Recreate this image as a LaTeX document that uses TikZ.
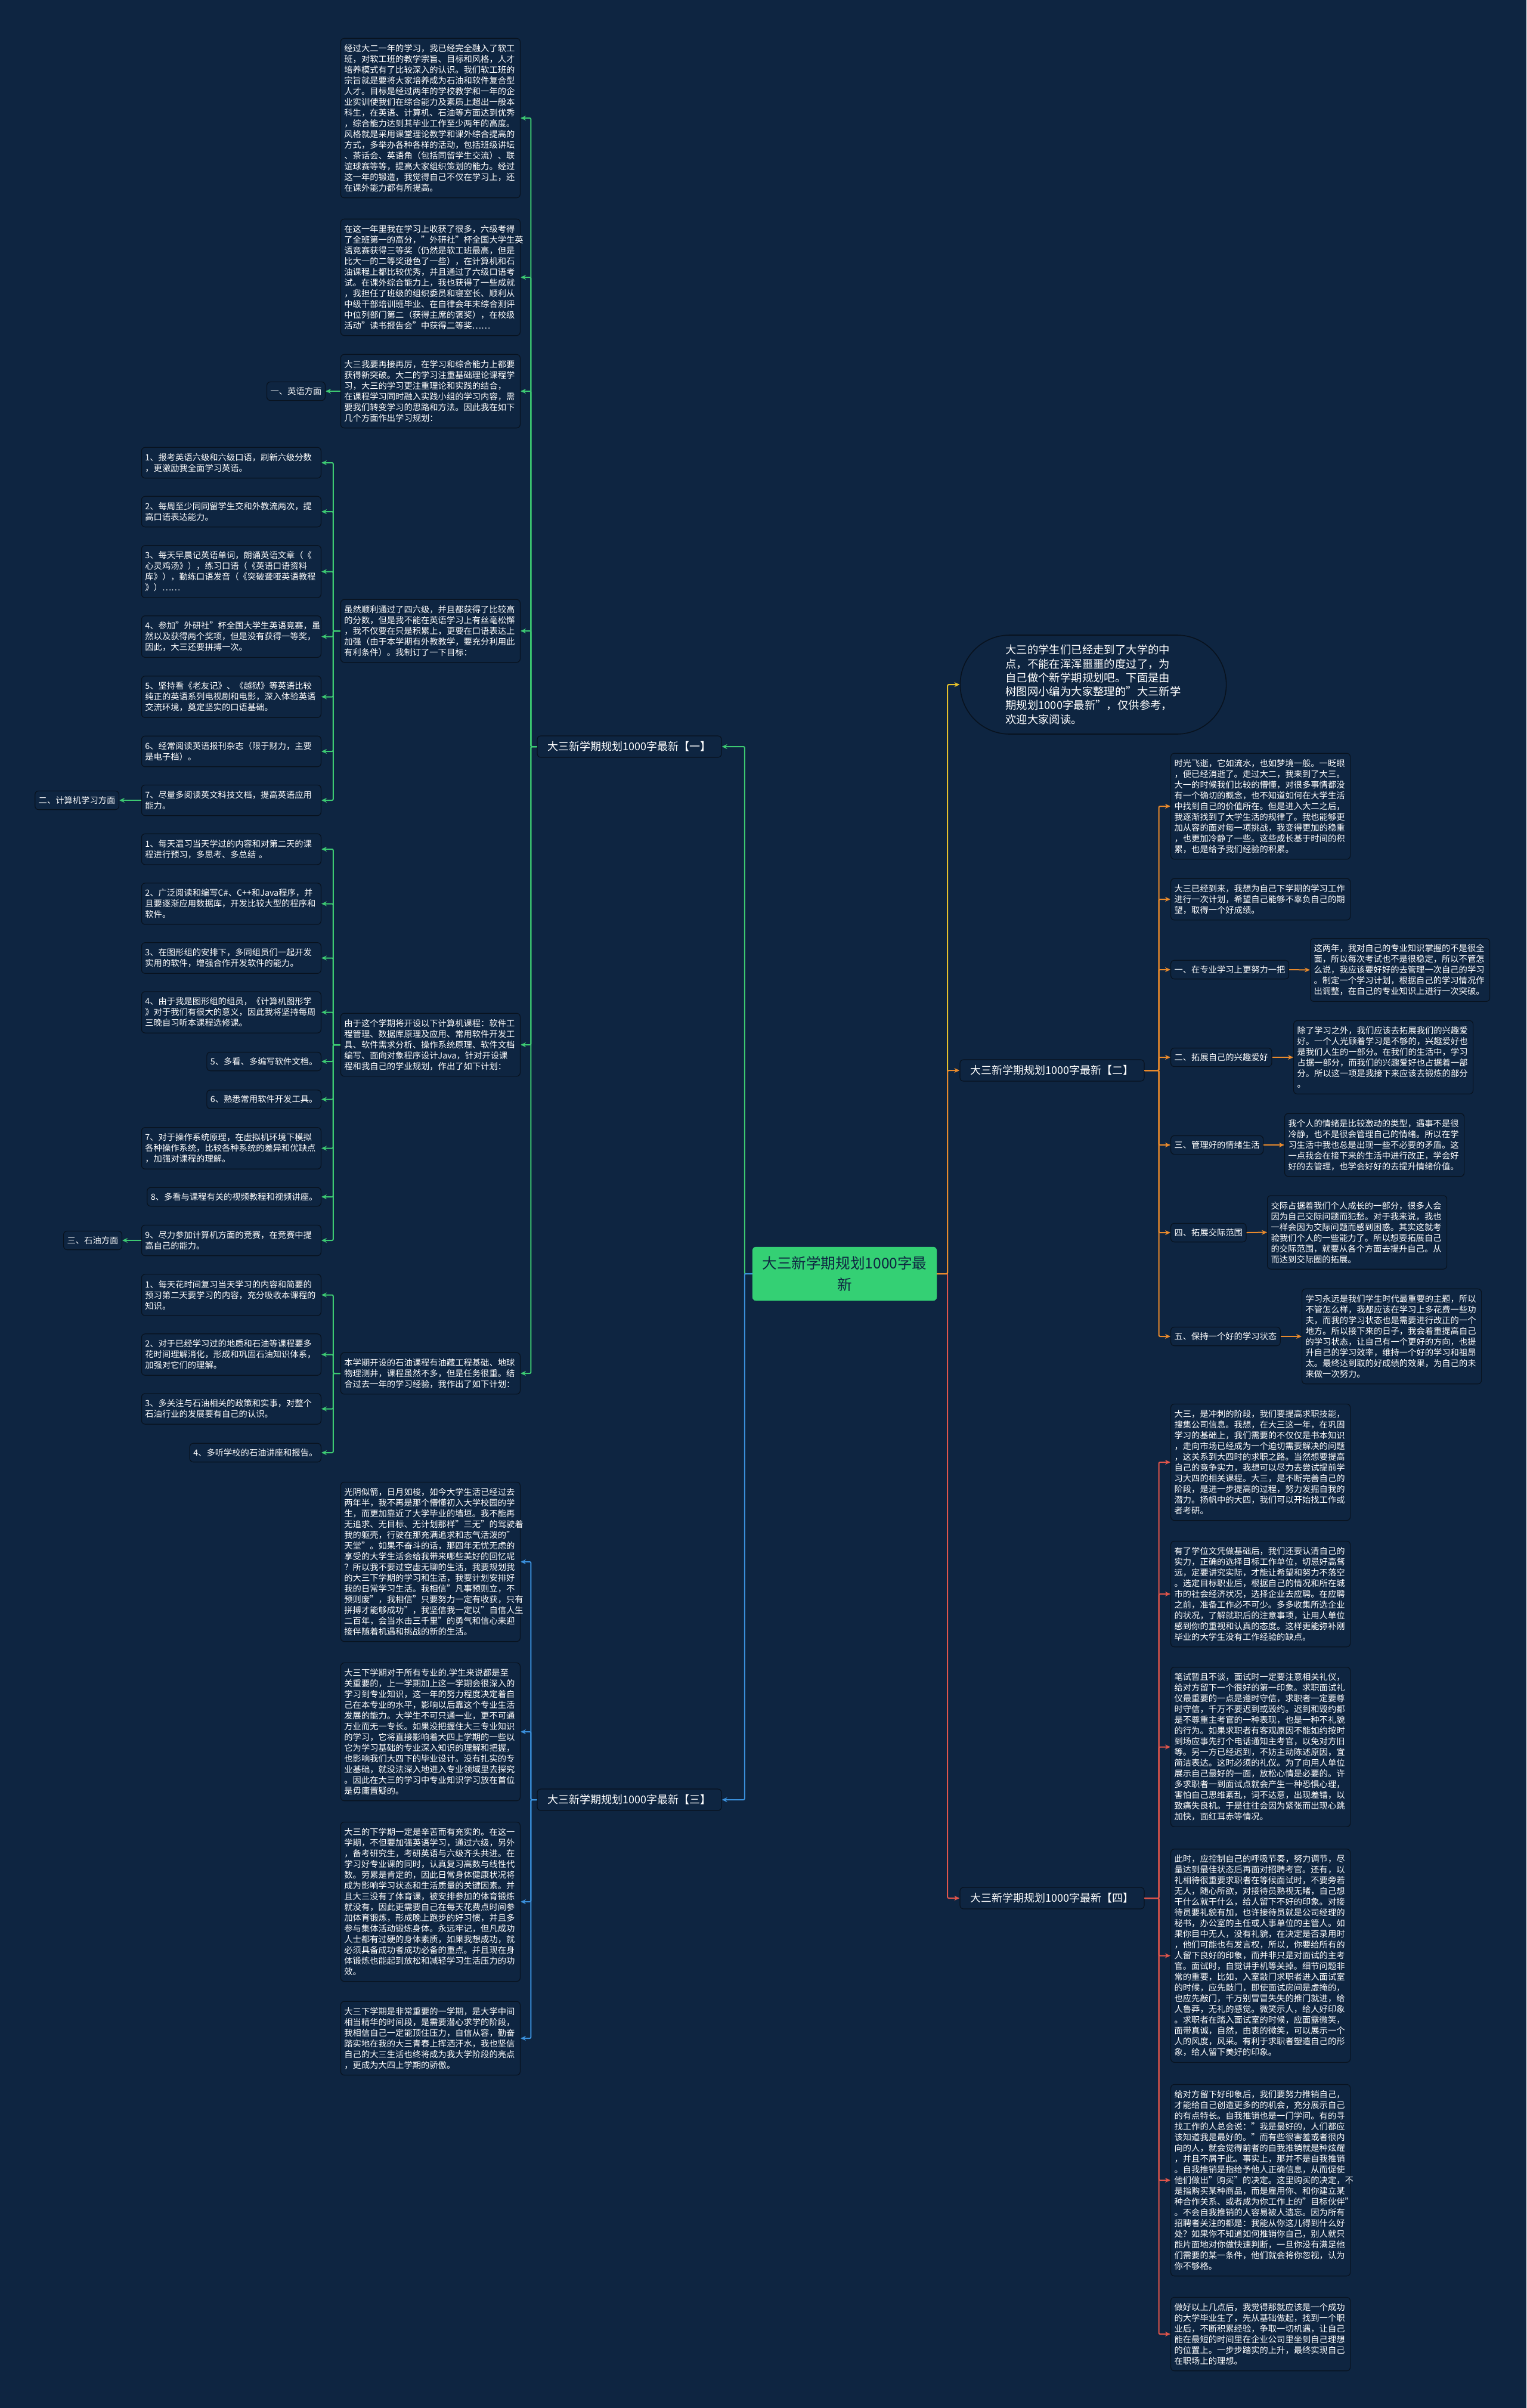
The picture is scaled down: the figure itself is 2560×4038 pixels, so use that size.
\documentclass[tikz,border=0pt]{standalone}
\usepackage{fontspec}
\setmainfont{Noto Sans CJK SC}
\usetikzlibrary{arrows.meta,shapes.misc}
\definecolor{bgcol}{HTML}{0E2541}
\definecolor{edgecol}{HTML}{08121E}
\definecolor{rootcol}{HTML}{34D074}
\definecolor{lgreen}{HTML}{3DC972}
\definecolor{lorange}{HTML}{E98A2C}
\definecolor{lblue}{HTML}{3A8FDA}
\definecolor{lred}{HTML}{E0554B}
\definecolor{lyellow}{HTML}{E7C22B}
\begin{document}
\begin{tikzpicture}[x=1pt, y=-1pt,
  box/.style={draw=edgecol, fill=bgcol, rounded corners=6pt, line width=1.2pt, text=white,
    inner xsep=6pt, inner ysep=10pt, font=\fontsize{14.3}{18}\selectfont},
  txt/.style={box, text width=289pt, align=left},
  tag/.style={box, inner ysep=9pt, align=left},
  branch/.style={box, inner ysep=9pt, minimum width=309pt, minimum height=36pt,
    font=\fontsize{18}{22}\selectfont},
  gline/.style={draw=lgreen, line width=2pt, rounded corners=2pt, -{Stealth[length=9pt,width=8pt]}},
  bline/.style={gline, draw=lblue},
  oline/.style={gline, draw=lorange},
  rline/.style={gline, draw=lred},
  yline/.style={gline, draw=lyellow}]
\useasboundingbox (0,0) rectangle (2560,4038);
\fill[bgcol] (0,0) rectangle (2560,4038);

% centre and the right hand side
\node [rectangle, rounded corners=6pt, fill=rootcol, draw=rootcol, text=bgcol, align=center,
  minimum width=309pt, minimum height=90pt, font=\fontsize{24.6}{36}\selectfont]
  (root) at (1416.5,2136) {大三新学期规划1000字最\\新};
\node [rounded rectangle, draw=edgecol, fill=bgcol, line width=1.6pt, text=white, align=left,
  minimum width=453pt, minimum height=166pt, font=\fontsize{18.4}{23.3}\selectfont]
  (intro) at (1833.5,1148) {大三的学生们已经走到了大学的中\\点，不能在浑浑噩噩的度过了，为\\自己做个新学期规划吧。下面是由\\树图网小编为大家整理的"大三新学\\期规划1000字最新"，仅供参考，\\欢迎大家阅读。};

\node [branch] (b1) at (1055.5,1252) {大三新学期规划1000字最新【一】};
\node [branch] (b2) at (1764.5,1795) {大三新学期规划1000字最新【二】};
\node [branch] (b3) at (1055.5,3018) {大三新学期规划1000字最新【三】};
\node [branch] (b4) at (1764.5,3183) {大三新学期规划1000字最新【四】};

% branch one
\node [txt, anchor=east] (A) at (873,198) {经过大二一年的学习，我已经完全融入了软工\\班，对软工班的教学宗旨、目标和风格，人才\\培养模式有了比较深入的认识。我们软工班的\\宗旨就是要将大家培养成为石油和软件复合型\\人才。目标是经过两年的学校教学和一年的企\\业实训使我们在综合能力及素质上超出一般本\\科生，在英语、计算机、石油等方面达到优秀\\，综合能力达到其毕业工作至少两年的高度。\\风格就是采用课堂理论教学和课外综合提高的\\方式，多举办各种各样的活动，包括班级讲坛\\、茶话会、英语角（包括同留学生交流）、联\\谊球赛等等，提高大家组织策划的能力。经过\\这一年的锻造，我觉得自己不仅在学习上，还\\在课外能力都有所提高。};
\node [txt, anchor=east] (B) at (873,465) {在这一年里我在学习上收获了很多，六级考得\\了全班第一的高分，"外研社"杯全国大学生英\\语竞赛获得三等奖（仍然是软工班最高，但是\\比大一的二等奖逊色了一些），在计算机和石\\油课程上都比较优秀，并且通过了六级口语考\\试。在课外综合能力上，我也获得了一些成就\\，我担任了班级的组织委员和寝室长、顺利从\\中级干部培训班毕业、在自律会年末综合测评\\中位列部门第二（获得主席的褒奖），在校级\\活动"读书报告会"中获得二等奖……};
\node [txt, anchor=east] (C) at (873,656) {大三我要再接再厉，在学习和综合能力上都要\\获得新突破。大二的学习注重基础理论课程学\\习，大三的学习更注重理论和实践的结合，\\在课程学习同时融入实践小组的学习内容，需\\要我们转变学习的思路和方法。因此我在如下\\几个方面作出学习规划：};
\node [tag, anchor=east] (en) at (546,656) {一、英语方面};
\node [txt, anchor=east] (D) at (873,1058) {虽然顺利通过了四六级，并且都获得了比较高\\的分数，但是我不能在英语学习上有丝毫松懈\\，我不仅要在只是积累上，更要在口语表达上\\加强（由于本学期有外教教学，要充分利用此\\有利条件）。我制订了一下目标：};
\node [txt, anchor=east] (e1) at (539,776) {1、报考英语六级和六级口语，刷新六级分数\\，更激励我全面学习英语。};
\node [txt, anchor=east] (e2) at (539,858) {2、每周至少同同留学生交和外教流两次，提\\高口语表达能力。};
\node [txt, anchor=east] (e3) at (539,958.5) {3、每天早晨记英语单词，朗诵英语文章（《\\心灵鸡汤》），练习口语（《英语口语资料\\库》），勤练口语发音（《突破聋哑英语教程\\》）……};
\node [txt, anchor=east] (e4) at (539,1067.5) {4、参加"外研社"杯全国大学生英语竞赛，虽\\然以及获得两个奖项，但是没有获得一等奖，\\因此，大三还要拼搏一次。};
\node [txt, anchor=east] (e5) at (539,1168.5) {5、坚持看《老友记》、《越狱》等英语比较\\纯正的英语系列电视剧和电影，深入体验英语\\交流环境，奠定坚实的口语基础。};
\node [txt, anchor=east] (e6) at (539,1260) {6、经常阅读英语报刊杂志（限于财力，主要\\是电子档）。};
\node [txt, anchor=east] (e7) at (539,1342) {7、尽量多阅读英文科技文档，提高英语应用\\能力。};
\node [tag, anchor=east] (cs) at (200,1342) {二、计算机学习方面};
\node [txt, anchor=east] (E) at (873,1752) {由于这个学期将开设以下计算机课程：软件工\\程管理、数据库原理及应用、常用软件开发工\\具、软件需求分析、操作系统原理、软件文档\\编写、面向对象程序设计Java，针对开设课\\程和我自己的学业规划，作出了如下计划：};
\node [txt, anchor=east] (c1) at (539,1424) {1、每天温习当天学过的内容和对第二天的课\\程进行预习，多思考、多总结 。};
\node [txt, anchor=east] (c2) at (539,1515.5) {2、广泛阅读和编写C\#、C++和Java程序，并\\且要逐渐应用数据库，开发比较大型的程序和\\软件。};
\node [txt, anchor=east] (c3) at (539,1606.5) {3、在图形组的安排下，多同组员们一起开发\\实用的软件，增强合作开发软件的能力。};
\node [txt, anchor=east] (c4) at (539,1697.5) {4、由于我是图形组的组员，《计算机图形学\\》对于我们有很大的意义，因此我将坚持每周\\三晚自习听本课程选修课。};
\node [tag, anchor=east] (c5) at (539,1780) {5、多看、多编写软件文档。};
\node [tag, anchor=east] (c6) at (539,1843.5) {6、熟悉常用软件开发工具。};
\node [txt, anchor=east] (c7) at (539,1925.5) {7、对于操作系统原理，在虚拟机环境下模拟\\各种操作系统，比较各种系统的差异和优缺点\\，加强对课程的理解。};
\node [tag, anchor=east] (c8) at (539,2007) {8、多看与课程有关的视频教程和视频讲座。};
\node [txt, anchor=east] (c9) at (539,2080) {9、尽力参加计算机方面的竞赛，在竞赛中提\\高自己的能力。};
\node [tag, anchor=east] (oil) at (205,2080) {三、石油方面};
\node [txt, anchor=east] (F) at (873,2303) {本学期开设的石油课程有油藏工程基础、地球\\物理测井，课程虽然不多，但是任务很重。结\\合过去一年的学习经验，我作出了如下计划：};
\node [txt, anchor=east] (o1) at (539,2171.5) {1、每天花时间复习当天学习的内容和简要的\\预习第二天要学习的内容，充分吸收本课程的\\知识。};
\node [txt, anchor=east] (o2) at (539,2271.5) {2、对于已经学习过的地质和石油等课程要多\\花时间理解消化，形成和巩固石油知识体系，\\加强对它们的理解。};
\node [txt, anchor=east] (o3) at (539,2362.5) {3、多关注与石油相关的政策和实事，对整个\\石油行业的发展要有自己的认识。};
\node [tag, anchor=east] (o4) at (539,2436) {4、多听学校的石油讲座和报告。};

% branch three
\node [txt, anchor=east] (G) at (873,2619) {光阴似箭，日月如梭，如今大学生活已经过去\\两年半，我不再是那个懵懂初入大学校园的学\\生，而更加靠近了大学毕业的墙垣。我不能再\\无追求、无目标、无计划那样"三无"的驾驶着\\我的躯壳，行驶在那充满追求和志气活泼的"\\天堂"。如果不奋斗的话，那四年无忧无虑的\\享受的大学生活会给我带来哪些美好的回忆呢\\？所以我不要过空虚无聊的生活，我要规划我\\的大三下学期的学习和生活，我要计划安排好\\我的日常学习生活。我相信"凡事预则立，不\\预则废"，我相信"只要努力一定有收获，只有\\拼搏才能够成功"，我坚信我一定以"自信人生\\二百年，会当水击三千里"的勇气和信心来迎\\接伴随着机遇和挑战的新的生活。};
\node [txt, anchor=east] (H) at (873,2904) {大三下学期对于所有专业的.学生来说都是至\\关重要的，上一学期加上这一学期会很深入的\\学习到专业知识，这一年的努力程度决定着自\\己在本专业的水平，影响以后靠这个专业生活\\发展的能力。大学生不可只通一业，更不可通\\万业而无一专长。如果没把握住大三专业知识\\的学习，它将直接影响着大四上学期的一些以\\它为学习基础的专业深入知识的理解和把握，\\也影响我们大四下的毕业设计。没有扎实的专\\业基础，就没法深入地进入专业领域里去探究\\。因此在大三的学习中专业知识学习放在首位\\是毋庸置疑的。};
\node [txt, anchor=east] (I) at (873,3189) {大三的下学期一定是辛苦而有充实的。在这一\\学期，不但要加强英语学习，通过六级，另外\\，备考研究生，考研英语与六级齐头共进。在\\学习好专业课的同时，认真复习高数与线性代\\数。劳累是肯定的，因此日常身体健康状况将\\成为影响学习状态和生活质量的关键因素。并\\且大三没有了体育课，被安排参加的体育锻炼\\就没有，因此更需要自己在每天花费点时间参\\加体育锻炼，形成晚上跑步的好习惯，并且多\\参与集体活动锻炼身体。永远牢记，但凡成功\\人士都有过硬的身体素质，如果我想成功，就\\必须具备成功者成功必备的重点。并且现在身\\体锻炼也能起到放松和减轻学习生活压力的功\\效。};
\node [txt, anchor=east] (J) at (873,3418) {大三下学期是非常重要的一学期，是大学中间\\相当精华的时间段，是需要潜心求学的阶段，\\我相信自己一定能顶住压力，自信从容，勤奋\\踏实地在我的大三青春上挥洒汗水，我也坚信\\自己的大三生活也终将成为我大学阶段的亮点\\，更成为大四上学期的骄傲。};

% branch two
\node [txt, anchor=west] (K) at (1963,1352) {时光飞逝，它如流水，也如梦境一般。一眨眼\\，便已经消逝了。走过大二，我来到了大三。\\大一的时候我们比较的懵懂，对很多事情都没\\有一个确切的概念，也不知道如何在大学生活\\中找到自己的价值所在。但是进入大二之后，\\我逐渐找到了大学生活的规律了。我也能够更\\加从容的面对每一项挑战，我变得更加的稳重\\，也更加冷静了一些。这些成长基于时间的积\\累，也是给予我们经验的积累。};
\node [txt, anchor=west] (L) at (1963,1508) {大三已经到来，我想为自己下学期的学习工作\\进行一次计划，希望自己能够不辜负自己的期\\望，取得一个好成绩。};
\node [tag, anchor=west] (t1) at (1963,1626) {一、在专业学习上更努力一把};
\node [txt, anchor=west] (d1) at (2197,1626.5) {这两年，我对自己的专业知识掌握的不是很全\\面，所以每次考试也不是很稳定，所以不管怎\\么说，我应该要好好的去管理一次自己的学习\\。制定一个学习计划，根据自己的学习情况作\\出调整，在自己的专业知识上进行一次突破。};
\node [tag, anchor=west] (t2) at (1963,1773) {二、拓展自己的兴趣爱好};
\node [txt, anchor=west] (d2) at (2169,1773) {除了学习之外，我们应该去拓展我们的兴趣爱\\好。一个人光顾着学习是不够的，兴趣爱好也\\是我们人生的一部分。在我们的生活中，学习\\占据一部分，而我们的兴趣爱好也占据着一部\\分。所以这一项是我接下来应该去锻炼的部分\\。};
\node [tag, anchor=west] (t3) at (1963,1920) {三、管理好的情绪生活};
\node [txt, anchor=west] (d3) at (2154,1920) {我个人的情绪是比较激动的类型，遇事不是很\\冷静，也不是很会管理自己的情绪。所以在学\\习生活中我也总是出现一些不必要的矛盾。这\\一点我会在接下来的生活中进行改正，学会好\\好的去管理，也学会好好的去提升情绪价值。};
\node [tag, anchor=west] (t4) at (1963,2067) {四、拓展交际范围};
\node [txt, anchor=west] (d4) at (2125,2066.5) {交际占据着我们个人成长的一部分，很多人会\\因为自己交际问题而犯愁。对于我来说，我也\\一样会因为交际问题而感到困惑。其实这就考\\验我们个人的一些能力了。所以想要拓展自己\\的交际范围，就要从各个方面去提升自己。从\\而达到交际圈的拓展。};
\node [tag, anchor=west] (t5) at (1963,2241) {五、保持一个好的学习状态};
\node [txt, anchor=west] (d5) at (2183,2241) {学习永远是我们学生时代最重要的主题，所以\\不管怎么样，我都应该在学习上多花费一些功\\夫，而我的学习状态也是需要进行改正的一个\\地方。所以接下来的日子，我会着重提高自己\\的学习状态，让自己有一个更好的方向，也提\\升自己的学习效率，维持一个好的学习和祖昂\\太。最终达到取的好成绩的效果，为自己的未\\来做一次努力。};

% branch four
\node [txt, anchor=west] (R) at (1963,2452) {大三，是冲刺的阶段，我们要提高求职技能，\\搜集公司信息。我想，在大三这一年，在巩固\\学习的基础上，我们需要的不仅仅是书本知识\\，走向市场已经成为一个迫切需要解决的问题\\，这关系到大四时的求职之路。当然想要提高\\自己的竞争实力，我想可以尽力去尝试提前学\\习大四的相关课程。大三，是不断完善自己的\\阶段，是进一步提高的过程，努力发掘自我的\\潜力。扬帆中的大四，我们可以开始找工作或\\者考研。};
\node [txt, anchor=west] (S) at (1963,2673) {有了学位文凭做基础后，我们还要认清自己的\\实力，正确的选择目标工作单位，切忌好高骛\\远，定要讲究实际，才能让希望和努力不落空\\。选定目标职业后，根据自己的情况和所在城\\市的社会经济状况，选择企业去应聘。在应聘\\之前，准备工作必不可少。多多收集所选企业\\的状况，了解就职后的注意事项，让用人单位\\感到你的重视和认真的态度。这样更能弥补刚\\毕业的大学生没有工作经验的缺点。};
\node [txt, anchor=west] (T) at (1963,2929.5) {笔试暂且不谈，面试时一定要注意相关礼仪，\\给对方留下一个很好的第一印象。求职面试礼\\仪最重要的一点是遵时守信，求职者一定要尊\\时守信，千万不要迟到或毁约。迟到和毁约都\\是不尊重主考官的一种表现，也是一种不礼貌\\的行为。如果求职者有客观原因不能如约按时\\到场应事先打个电话通知主考官，以免对方旧\\等。另一方已经迟到，不妨主动陈述原因，宜\\简洁表达。这时必须的礼仪。为了向用人单位\\展示自己最好的一面，放松心情是必要的。许\\多求职者一到面试点就会产生一种恐惧心理，\\害怕自己思维紊乱，词不达意，出现差错，以\\致痛失良机。于是往往会因为紧张而出现心跳\\加快，面红耳赤等情况。};
\node [txt, anchor=west] (U) at (1963,3279.5) {此时，应控制自己的呼吸节奏，努力调节，尽\\量达到最佳状态后再面对招聘考官。还有，以\\礼相待很重要求职者在等候面试时，不要旁若\\无人，随心所欲，对接待员熟视无睹，自己想\\干什么就干什么，给人留下不好的印象。对接\\待员要礼貌有加，也许接待员就是公司经理的\\秘书，办公室的主任或人事单位的主管人。如\\果你目中无人，没有礼貌，在决定是否录用时\\，他们可能也有发言权，所以，你要给所有的\\人留下良好的印象，而并非只是对面试的主考\\官。面试时，自觉讲手机等关掉。细节问题非\\常的重要，比如，入室敲门求职者进入面试室\\的时候，应先敲门，即使面试房间是虚掩的，\\也应先敲门，千万别冒冒失失的推门就进，给\\人鲁莽，无礼的感觉。微笑示人，给人好印象\\。求职者在踏入面试室的时候，应面露微笑，\\面带真诚，自然，由衷的微笑，可以展示一个\\人的风度，风采。有利于求职者塑造自己的形\\象，给人留下美好的印象。};
\node [txt, anchor=west] (V) at (1963,3656) {给对方留下好印象后，我们要努力推销自己，\\才能给自己创造更多的的机会，充分展示自己\\的有点特长。自我推销也是一门学问。有的寻\\找工作的人总会说："我是最好的，人们都应\\该知道我是最好的。"而有些很害羞或者很内\\向的人，就会觉得前者的自我推销就是种炫耀\\，并且不屑于此。事实上，那并不是自我推销\\。自我推销是指给予他人正确信息，从而促使\\他们做出"购买"的决定。这里购买的决定，不\\是指购买某种商品，而是雇用你、和你建立某\\种合作关系、或者成为你工作上的"目标伙伴"\\。不会自我推销的人容易被人遗忘。因为所有\\招聘者关注的都是：我能从你这儿得到什么好\\处？如果你不知道如何推销你自己，别人就只\\能片面地对你做快速判断，一旦你没有满足他\\们需要的某一条件，他们就会将你忽视，认为\\你不够格。};
\node [txt, anchor=west] (W) at (1963,3914) {做好以上几点后，我觉得那就应该是一个成功\\的大学毕业生了，先从基础做起，找到一个职\\业后，不断积累经验，争取一切机遇，让自己\\能在最短的时间里在企业公司里坐到自己理想\\的位置上。一步步踏实的上升，最终实现自己\\在职场上的理想。};

% connectors from the centre
\draw[gline] (root.west) -- ++(-13,0) |- (b1.east);
\draw[bline] (root.west) -- ++(-13,0) |- (b3.east);
\draw[yline] (root.east) -- ++(18,0) |- (intro.west);
\draw[rline] (root.east) -- ++(18,0) |- (b4.west);
\draw[oline] (root.east) -- ++(18,0) |- (b2.west);

\draw[gline] (b1.west) -- ++(-10,0) |- (A.east);
\draw[gline] (b1.west) -- ++(-10,0) |- (B.east);
\draw[gline] (b1.west) -- ++(-10,0) |- (C.east);
\draw[gline] (b1.west) -- ++(-10,0) |- (D.east);
\draw[gline] (b1.west) -- ++(-10,0) |- (E.east);
\draw[gline] (b1.west) -- ++(-10,0) |- (F.east);
\draw[gline] (C.west) -- (en.east);
\draw[gline] (D.west) -- ++(-12,0) |- (e1.east);
\draw[gline] (D.west) -- ++(-12,0) |- (e2.east);
\draw[gline] (D.west) -- ++(-12,0) |- (e3.east);
\draw[gline] (D.west) -- ++(-12,0) |- (e4.east);
\draw[gline] (D.west) -- ++(-12,0) |- (e5.east);
\draw[gline] (D.west) -- ++(-12,0) |- (e6.east);
\draw[gline] (D.west) -- ++(-12,0) |- (e7.east);
\draw[gline] (e7.west) -- (cs.east);
\draw[gline] (E.west) -- ++(-12,0) |- (c1.east);
\draw[gline] (E.west) -- ++(-12,0) |- (c2.east);
\draw[gline] (E.west) -- ++(-12,0) |- (c3.east);
\draw[gline] (E.west) -- ++(-12,0) |- (c4.east);
\draw[gline] (E.west) -- ++(-12,0) |- (c5.east);
\draw[gline] (E.west) -- ++(-12,0) |- (c6.east);
\draw[gline] (E.west) -- ++(-12,0) |- (c7.east);
\draw[gline] (E.west) -- ++(-12,0) |- (c8.east);
\draw[gline] (E.west) -- ++(-12,0) |- (c9.east);
\draw[gline] (c9.west) -- (oil.east);
\draw[gline] (F.west) -- ++(-12,0) |- (o1.east);
\draw[gline] (F.west) -- ++(-12,0) |- (o2.east);
\draw[gline] (F.west) -- ++(-12,0) |- (o3.east);
\draw[gline] (F.west) -- ++(-12,0) |- (o4.east);

\draw[bline] (b3.west) -- ++(-10,0) |- (G.east);
\draw[bline] (b3.west) -- ++(-10,0) |- (H.east);
\draw[bline] (b3.west) -- ++(-10,0) |- (I.east);
\draw[bline] (b3.west) -- ++(-10,0) |- (J.east);

\draw[oline] (b2.east) -- ++(24,0) |- (K.west);
\draw[oline] (b2.east) -- ++(24,0) |- (L.west);
\draw[oline] (b2.east) -- ++(24,0) |- (t1.west);
\draw[oline] (b2.east) -- ++(24,0) |- (t2.west);
\draw[oline] (b2.east) -- ++(24,0) |- (t3.west);
\draw[oline] (b2.east) -- ++(24,0) |- (t4.west);
\draw[oline] (b2.east) -- ++(24,0) |- (t5.west);
\draw[oline] (t1.east) -- (d1.west);
\draw[oline] (t2.east) -- (d2.west);
\draw[oline] (t3.east) -- (d3.west);
\draw[oline] (t4.east) -- (d4.west);
\draw[oline] (t5.east) -- (d5.west);

\draw[rline] (b4.east) -- ++(24,0) |- (R.west);
\draw[rline] (b4.east) -- ++(24,0) |- (S.west);
\draw[rline] (b4.east) -- ++(24,0) |- (T.west);
\draw[rline] (b4.east) -- ++(24,0) |- (U.west);
\draw[rline] (b4.east) -- ++(24,0) |- (V.west);
\draw[rline] (b4.east) -- ++(24,0) |- (W.west);
\end{tikzpicture}
\end{document}
